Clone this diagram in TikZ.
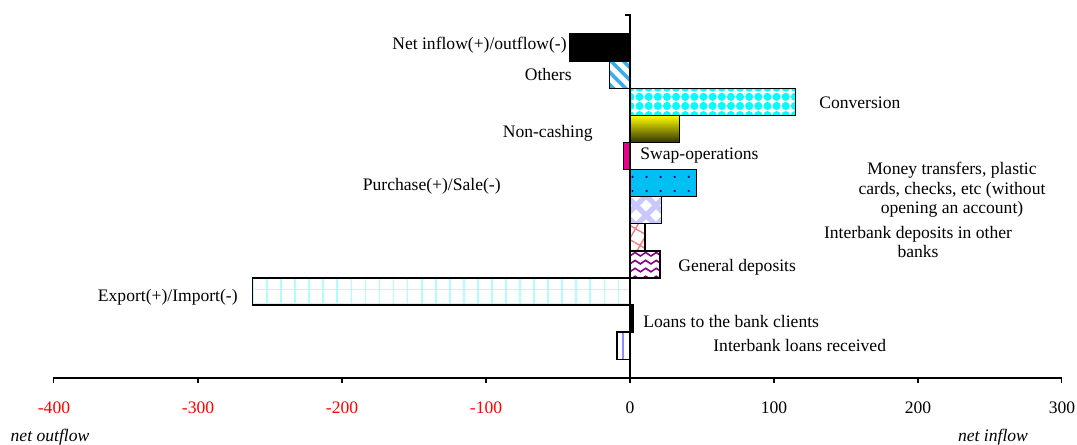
\documentclass[tikz,border=0pt]{standalone}
\usepackage{fontspec}
\setmainfont{Liberation Serif}
\usepackage{xcolor}
\usetikzlibrary{patterns, patterns.meta}
\definecolor{stripeblue}{HTML}{3AAAEE}
\definecolor{moneyblue}{HTML}{00BFF2}
\definecolor{dotnavy}{HTML}{000080}
\definecolor{lavender}{HTML}{C8C8FF}
\definecolor{brickpink}{HTML}{F08080}
\definecolor{wavepurple}{HTML}{800080}
\definecolor{gridcyan}{HTML}{B0FFFF}

\tikzdeclarepattern{
  name=wavelines,
  type=uncolored,
  bounding box={(-0.5pt,-1.5pt) and (6.5pt,1.5pt)},
  tile size={(6pt,4.5pt)},
  code={
    \draw[line width=0.9pt] (0pt,0pt) sin (1.5pt,1pt) cos (3pt,0pt)
      sin (4.5pt,-1pt) cos (6pt,0pt);
  }
}

\tikzset{
  bar/.style={draw=black, line width=0.8pt},
  catlabel/.style={font=\fontsize{10}{11}\selectfont, inner sep=0pt, align=center},
  ticklabel/.style={font=\fontsize{10}{12}\selectfont, inner sep=0pt},
  sidelabel/.style={font=\fontsize{10}{12}\selectfont\itshape, inner sep=0pt}
}

\begin{document}
\begin{tikzpicture}[x=0.02cm, y=-0.02cm]
\useasboundingbox (0,0) rectangle (1077,444);

% bars, from top to bottom
\path[bar, fill=black] (570,34) rectangle (630,61.1);
\path[bar, pattern={Lines[angle=-45, distance=5pt, line width=2pt]}, pattern color=stripeblue]
  (609.3,61.1) rectangle (630,88.2);
\path[bar, fill=white, pattern={Dots[radius=2.3pt, distance=5.2pt]}, pattern color=cyan]
  (630,88.2) rectangle (795.7,115.3);
\path[bar, top color=yellow, bottom color=yellow!20!black] (630,115.3) rectangle (679.3,142.4);
\path[bar, fill=magenta] (623.3,142.4) rectangle (630,169.5);
\fill[moneyblue] (630,169.5) rectangle (696.7,196.6);
\path[bar, pattern={Dots[radius=0.7pt, distance=8pt]}, pattern color=dotnavy]
  (630,169.5) rectangle (696.7,196.6);
\path[bar, pattern={Hatch[angle=45, distance=8pt, line width=3pt]}, pattern color=lavender]
  (630,196.6) rectangle (661.7,223.7);
\path[bar, pattern={Hatch[angle=60, distance=7pt, line width=0.8pt]}, pattern color=brickpink]
  (630,223.7) rectangle (645,250.8);
\path[bar, pattern=wavelines, pattern color=wavepurple] (630,250.8) rectangle (660,277.9);
\path[bar, pattern={Hatch[angle=0, distance=8pt, line width=1pt]}, pattern color=gridcyan]
  (252.7,277.9) rectangle (630,305.0);
\path[bar, fill=black] (630,305.0) rectangle (633,332.1);
\draw[lavender!70!blue, line width=1.5pt] (623,332.1) -- (623,359.2);
\path[bar] (617,332.1) rectangle (630,359.2);

% axes
\draw[line width=0.8pt] (625,15) -- (630,15) -- (630,383);
\draw[line width=0.8pt] (53.3,383) -- (53.3,378) -- (1061.7,378) -- (1061.7,383);
\foreach \v in {-300,-200,...,200}
  \draw[line width=0.8pt] ({630+1.44*\v},378) -- ({630+1.44*\v},383);

% tick labels
\foreach \v in {-400,-300,-200,-100}
  \node[ticklabel, text=red] (tick\v) at ({630+1.44*\v},408) {\v};
\foreach \v in {0,100,200,300}
  \node[ticklabel] (tick\v) at ({630+1.44*\v},408) {\v};
\node[sidelabel] (outflow) at (50,437) {net outflow};
\node[sidelabel] (inflow) at (993,437) {net inflow};

% category labels
\node[catlabel, anchor=east] (lblnet) at (567,45) {Net inflow(+)/outflow(-)};
\node[catlabel, anchor=east] (lblothers) at (572,74) {Others};
\node[catlabel, anchor=west] (lblconv) at (819,103) {Conversion};
\node[catlabel, anchor=east] (lblnoncash) at (593,133) {Non-cashing};
\node[catlabel, anchor=west] (lblswap) at (640,156) {Swap-operations};
\node[catlabel] (lblmoney) at (952,190) {Money transfers, plastic\\cards, checks, etc (without\\opening an account)};
\node[catlabel, anchor=east] (lblpurchase) at (501,186) {Purchase(+)/Sale(-)};
\node[catlabel] (lblibdep) at (918,242) {Interbank deposits in other\\banks};
\node[catlabel, anchor=west] (lblgeneral) at (678,267) {General deposits};
\node[catlabel, anchor=east] (lblexport) at (238,297) {Export(+)/Import(-)};
\node[catlabel, anchor=west] (lblloans) at (643,321) {Loans to the bank clients};
\node[catlabel, anchor=west] (lblibloans) at (713,345) {Interbank loans received};
\end{tikzpicture}
\end{document}
